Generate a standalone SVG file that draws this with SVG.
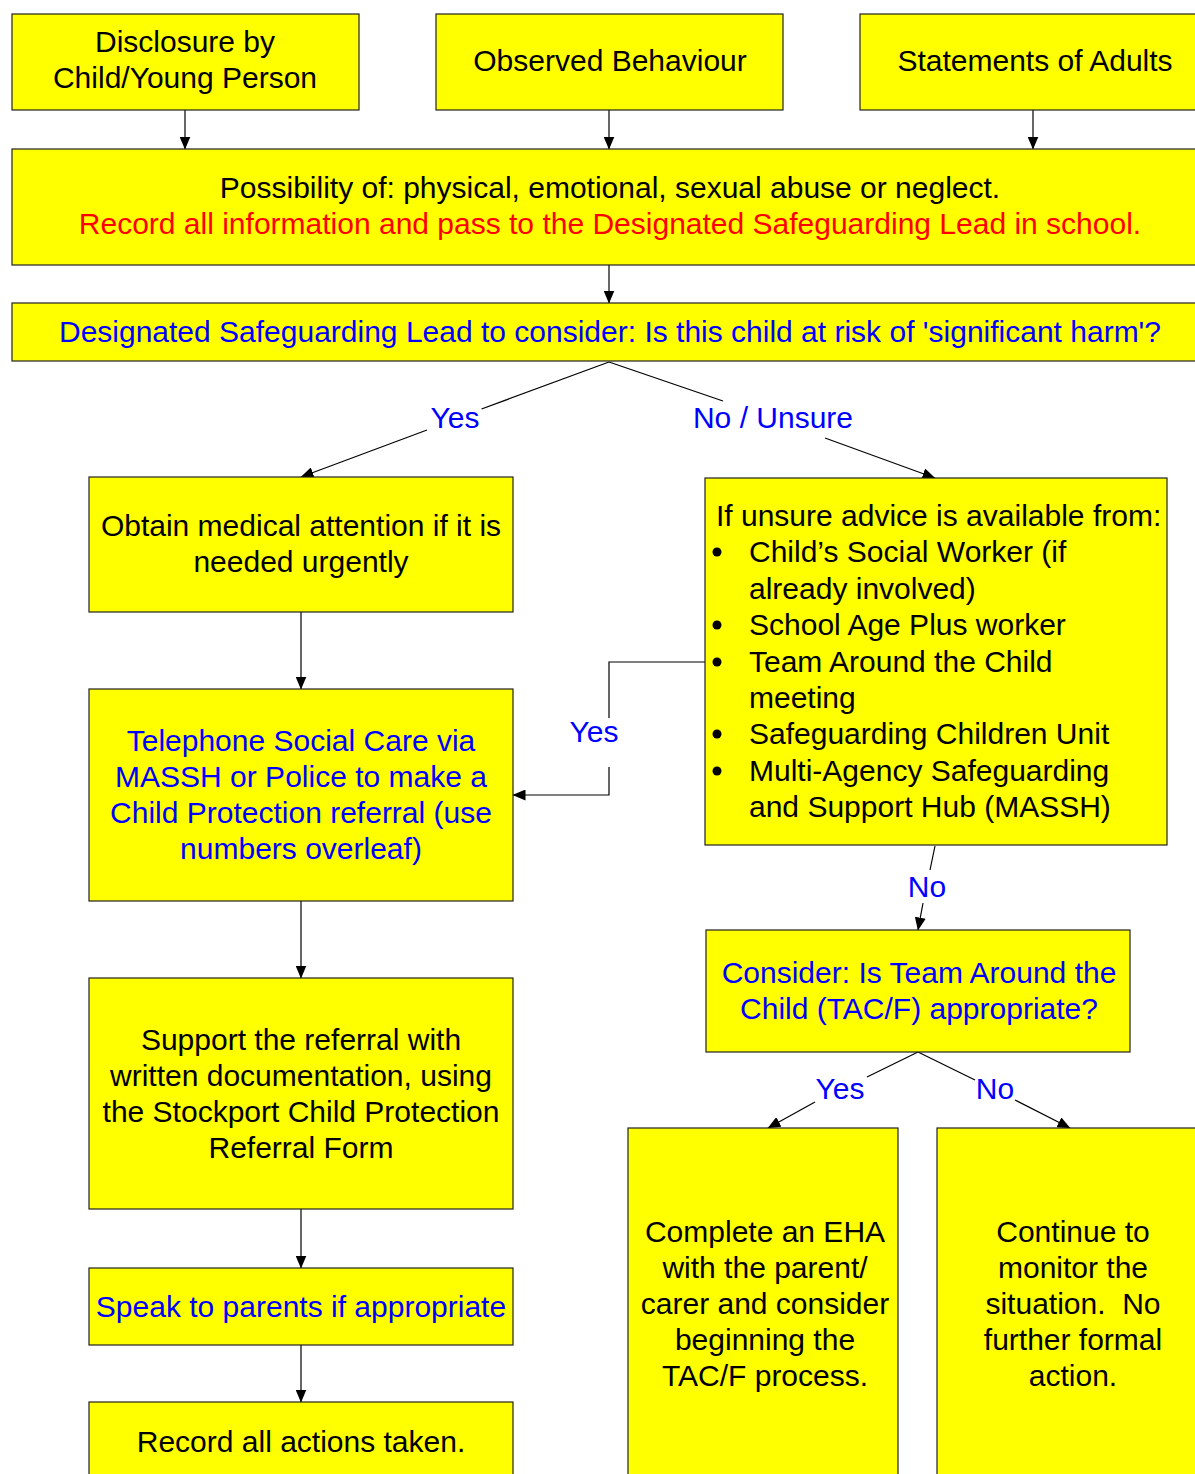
<svg xmlns="http://www.w3.org/2000/svg" width="1195" height="1474" viewBox="0 0 1195 1474">
<defs>
<marker id="ah" markerWidth="13" markerHeight="11" refX="12.5" refY="5.5" orient="auto" markerUnits="userSpaceOnUse">
<path d="M0,0 L13,5.5 L0,11 z" fill="#000"/>
</marker>
<style>
.box{fill:#ffff00;stroke:#222;stroke-width:1.2}
.t{font-family:"Liberation Sans",Arial,sans-serif;font-size:30px;fill:#000;text-anchor:middle}
.tl{text-anchor:start}
.b{fill:#0000ff}
.r{fill:#ff0000}
.c{stroke:#000;stroke-width:1.2;fill:none}
.ca{stroke:#000;stroke-width:1.2;fill:none;marker-end:url(#ah)}
</style>
</defs>
<rect width="1195" height="1474" fill="#fff"/>
<g id="connectors">
<line class="ca" x1="185" y1="110" x2="185" y2="149"/>
<line class="ca" x1="609" y1="110" x2="609" y2="149"/>
<line class="ca" x1="1033" y1="110" x2="1033" y2="149"/>
<line class="ca" x1="609" y1="265" x2="609" y2="303"/>
<line class="c" x1="609" y1="362" x2="481.5" y2="409"/>
<line class="ca" x1="427" y1="430" x2="301" y2="477"/>
<line class="c" x1="609" y1="362" x2="723" y2="401"/>
<line class="ca" x1="825" y1="438" x2="935" y2="478"/>
<line class="ca" x1="301" y1="612" x2="301" y2="689"/>
<polyline class="c" points="705,662 609,662 609,718"/>
<polyline class="ca" points="609,767 609,795 513,795"/>
<line class="ca" x1="301" y1="901" x2="301" y2="978"/>
<line class="ca" x1="301" y1="1209" x2="301" y2="1268"/>
<line class="ca" x1="301" y1="1345" x2="301" y2="1402"/>
<line class="c" x1="935" y1="846" x2="930" y2="870"/>
<line class="ca" x1="923" y1="903" x2="918" y2="930"/>
<line class="c" x1="918" y1="1052" x2="867" y2="1077"/>
<line class="ca" x1="815" y1="1102" x2="768" y2="1128"/>
<line class="c" x1="918" y1="1052" x2="975" y2="1080"/>
<line class="ca" x1="1015" y1="1100" x2="1070" y2="1128"/>
<text class="t b" x="455" y="428">Yes</text>
<text class="t b" x="773" y="428">No / Unsure</text>
<text class="t b" x="594" y="742">Yes</text>
<text class="t b" x="927" y="897">No</text>
<text class="t b" x="840" y="1099">Yes</text>
<text class="t b" x="995" y="1099">No</text>
</g>
<g id="n1"><rect class="box" x="12" y="14" width="347" height="96"/>
<text class="t" x="185" y="52">Disclosure by</text><text class="t" x="185" y="88">Child/Young Person</text></g>
<g id="n2"><rect class="box" x="436" y="14" width="347" height="96"/>
<text class="t" x="610" y="71">Observed Behaviour</text></g>
<g id="n3"><rect class="box" x="860" y="14" width="345" height="96"/>
<text class="t" x="1035" y="71">Statements of Adults</text></g>
<g id="n4"><rect class="box" x="12" y="149" width="1193" height="116"/>
<text class="t" x="610" y="198">Possibility of: physical, emotional, sexual abuse or neglect.</text>
<text class="t r" x="610" y="234">Record all information and pass to the Designated Safeguarding Lead in school.</text></g>
<g id="n5"><rect class="box" x="12" y="303" width="1193" height="58"/>
<text class="t b" x="610" y="342">Designated Safeguarding Lead to consider: Is this child at risk of 'significant harm'?</text></g>
<g id="n6"><rect class="box" x="89" y="477" width="424" height="135"/>
<text class="t" x="301" y="536">Obtain medical attention if it is</text><text class="t" x="301" y="572">needed urgently</text></g>
<g id="n7"><rect class="box" x="705" y="478" width="462" height="367"/>
<text class="t tl" x="716" y="526">If unsure advice is available from:</text>
<g fill="#000"><circle cx="717" cy="552" r="4.5"/><circle cx="717" cy="625" r="4.5"/><circle cx="717" cy="662" r="4.5"/><circle cx="717" cy="734" r="4.5"/><circle cx="717" cy="771" r="4.5"/></g>
<text class="t tl" x="749" y="562">Child’s Social Worker (if</text>
<text class="t tl" x="749" y="599">already involved)</text>
<text class="t tl" x="749" y="635">School Age Plus worker</text>
<text class="t tl" x="749" y="672">Team Around the Child</text>
<text class="t tl" x="749" y="708">meeting</text>
<text class="t tl" x="749" y="744">Safeguarding Children Unit</text>
<text class="t tl" x="749" y="781">Multi-Agency Safeguarding</text>
<text class="t tl" x="749" y="817">and Support Hub (MASSH)</text></g>
<g id="n8"><rect class="box" x="89" y="689" width="424" height="212"/>
<text class="t b" x="301" y="751">Telephone Social Care via</text>
<text class="t b" x="301" y="787">MASSH or Police to make a</text>
<text class="t b" x="301" y="823">Child Protection referral (use</text>
<text class="t b" x="301" y="859">numbers overleaf)</text></g>
<g id="n9"><rect class="box" x="706" y="930" width="424" height="122"/>
<text class="t b" x="919" y="983">Consider: Is Team Around the</text>
<text class="t b" x="919" y="1019">Child (TAC/F) appropriate?</text></g>
<g id="n10"><rect class="box" x="89" y="978" width="424" height="231"/>
<text class="t" x="301" y="1050">Support the referral with</text>
<text class="t" x="301" y="1086">written documentation, using</text>
<text class="t" x="301" y="1122">the Stockport Child Protection</text>
<text class="t" x="301" y="1158">Referral Form</text></g>
<g id="n11"><rect class="box" x="89" y="1268" width="424" height="77"/>
<text class="t b" x="301" y="1317">Speak to parents if appropriate</text></g>
<g id="n12"><rect class="box" x="89" y="1402" width="424" height="80"/>
<text class="t" x="301" y="1452">Record all actions taken.</text></g>
<g id="n13"><rect class="box" x="628" y="1128" width="270" height="354"/>
<text class="t" x="765" y="1242">Complete an EHA</text>
<text class="t" x="765" y="1278">with the parent/</text>
<text class="t" x="765" y="1314">carer and consider</text>
<text class="t" x="765" y="1350">beginning the</text>
<text class="t" x="765" y="1386">TAC/F process.</text></g>
<g id="n14"><rect class="box" x="937" y="1128" width="268" height="354"/>
<text class="t" x="1073" y="1242">Continue to</text>
<text class="t" x="1073" y="1278">monitor the</text>
<text class="t" x="1073" y="1314" style="white-space:pre">situation.  No</text>
<text class="t" x="1073" y="1350">further formal</text>
<text class="t" x="1073" y="1386">action.</text></g>
</svg>
